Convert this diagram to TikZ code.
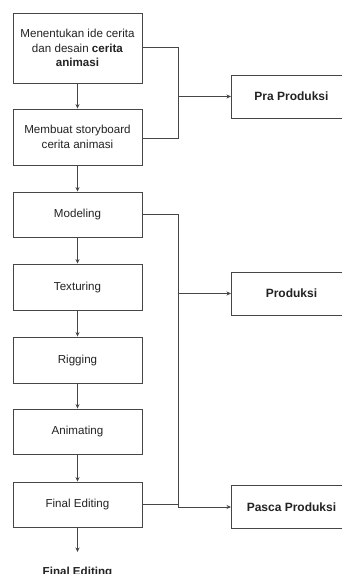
\documentclass[tikz,border=0pt]{standalone}
\usepackage{fontspec}
\setmainfont{Liberation Sans}
\usetikzlibrary{arrows.meta}
\definecolor{linec}{RGB}{70,70,70}
\definecolor{textc}{RGB}{35,35,35}
\begin{document}
\begin{tikzpicture}[x=1pt,y=-1pt,
  stepbox/.style={draw=linec, line width=0.9pt, minimum width=129pt, align=center, font=\fontsize{11.6}{14.8}\selectfont, text=textc, inner sep=0pt},
  phasebox/.style={draw=linec, line width=0.9pt, minimum width=120pt, minimum height=43pt, font=\bfseries\fontsize{12}{14}\selectfont, text=textc, inner sep=0pt},
  conn/.style={draw=linec, line width=0.9pt},
  arr/.style={conn, -{Stealth[length=4.5pt,width=4pt]}}]
\useasboundingbox[fill=white] (0,0) rectangle (341,574);
\node[stepbox, minimum height=70pt] (ide) at (77.5,48) {Menentukan ide cerita\\dan desain \textbf{cerita}\\\textbf{animasi}};
\node[stepbox, minimum height=56pt] (story) at (77.5,137) {Membuat storyboard\\cerita animasi};
\node[stepbox, minimum height=45pt] (model) at (77.5,214.5) {Modeling};
\node[stepbox, minimum height=46pt] (tex) at (77.5,287) {Texturing};
\node[stepbox, minimum height=46pt] (rig) at (77.5,360) {Rigging};
\node[stepbox, minimum height=45pt] (anim) at (77.5,431.5) {Animating};
\node[stepbox, minimum height=45pt] (final) at (77.5,504.5) {Final Editing};
\node[phasebox, anchor=west] (pra) at (231,96.5) {Pra Produksi};
\node[phasebox, anchor=west] (prod) at (231,293.5) {Produksi};
\node[phasebox, anchor=west] (pasca) at (231,507) {Pasca Produksi};
\node[font=\bfseries\fontsize{11.6}{14}\selectfont, text=textc] (out) at (77.5,572.5) {Final Editing};
\coordinate (out end) at (77.5,552);
\coordinate (j1) at (178,96.5);
\coordinate (j2) at (178,293.5);
\coordinate (j3) at (178,507);
\draw[arr] (ide) -- (story);
\draw[arr] (story) -- (model);
\draw[arr] (model) -- (tex);
\draw[arr] (tex) -- (rig);
\draw[arr] (rig) -- (anim);
\draw[arr] (anim) -- (final);
\draw[arr] (final) -- (out end);
\draw[conn] ([yshift=1pt]ide.east) -| (178,138) -- (story.east |- 0,138);
\draw[arr] (j1) -- (pra.west);
\draw[conn] (model.east) -| (j3);
\draw[conn] (final.east) -- (final.east -| j3);
\draw[arr] (j2) -- (prod.west);
\draw[arr] (j3) -- (pasca.west);
\end{tikzpicture}
\end{document}
